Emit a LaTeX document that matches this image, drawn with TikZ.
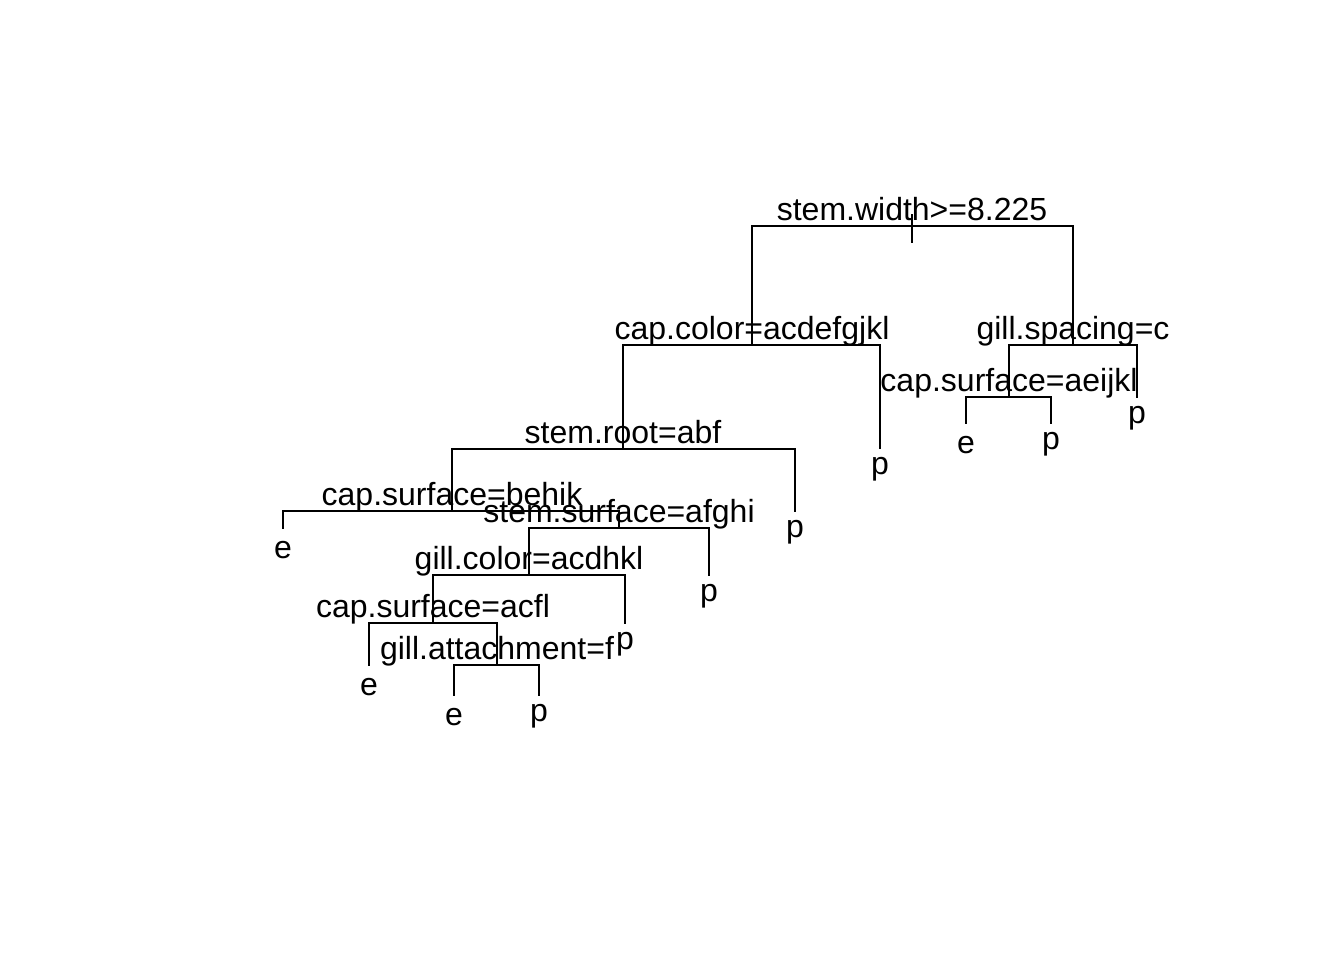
\documentclass[tikz,border=0pt]{standalone}
\usepackage{fontspec}
\setmainfont{Liberation Sans}
\usetikzlibrary{calc}
\tikzset{
  branch/.style={line width=1.2pt, line cap=rect},
  splitlab/.style={anchor=base, inner sep=0pt, font=\fontsize{24}{28}\selectfont},
  leaflab/.style={anchor=base, inner sep=0pt, font=\fontsize{24}{28}\selectfont},
}
\begin{document}
\begin{tikzpicture}[x=0.75pt,y=-0.75pt]
\useasboundingbox (0,0) rectangle (1344,960);
% node points
\coordinate (n1) at (912,226);
\coordinate (n1top) at (912,215);
\coordinate (n1bot) at (912,242);
\coordinate (n2) at (752,345);
\coordinate (n3) at (1073,345);
\coordinate (n4) at (623,449);
\coordinate (n5) at (880,448);
\coordinate (n6) at (1009,397);
\coordinate (n7) at (1137,397);
\coordinate (n8) at (452,511);
\coordinate (n9) at (795,511);
\coordinate (n10) at (966,423);
\coordinate (n11) at (1051,423);
\coordinate (n12) at (283,528);
\coordinate (n13) at (619,528);
\coordinate (n14) at (529,575);
\coordinate (n15) at (709,575);
\coordinate (n16) at (433,623);
\coordinate (n17) at (625,623);
\coordinate (n18) at (369,665);
\coordinate (n19) at (497,665);
\coordinate (n20) at (454,695);
\coordinate (n21) at (539,695);
% branches
\draw[branch] (n1top) -- (n1bot);
\draw[branch] (n2) |- (n1) -| (n3);
\draw[branch] (n4) |- (n2) -| (n5);
\draw[branch] (n6) |- (n3) -| (n7);
\draw[branch] (n8) |- (n4) -| (n9);
\draw[branch] (n10) |- (n6) -| (n11);
\draw[branch] (n12) |- (n8) -| (n13);
\draw[branch] (n14) |- (n13) -| (n15);
\draw[branch] (n16) |- (n14) -| (n17);
\draw[branch] (n18) |- (n16) -| (n19);
\draw[branch] (n20) |- (n19) -| (n21);
% split labels
\node[splitlab] (l1) at ($(n1)+(0,-6)$) {stem.width>=8.225};
\node[splitlab] (l2) at ($(n2)+(0,-6)$) {cap.color=acdefgjkl};
\node[splitlab] (l3) at ($(n3)+(0,-6)$) {gill.spacing=c};
\node[splitlab] (l4) at ($(n4)+(0,-6)$) {stem.root=abf};
\node[splitlab] (l6) at ($(n6)+(0,-6)$) {cap.surface=aeijkl};
\node[splitlab] (l8) at ($(n8)+(0,-6)$) {cap.surface=behik};
\node[splitlab] (l13) at ($(n13)+(0,-6)$) {stem.surface=afghi};
\node[splitlab] (l14) at ($(n14)+(0,-6)$) {gill.color=acdhkl};
\node[splitlab] (l16) at ($(n16)+(0,-6)$) {cap.surface=acfl};
\node[splitlab] (l19) at ($(n19)+(0,-6)$) {gill.attachment=f};
% leaf labels
\node[leaflab] (l5) at ($(n5)+(0,26.5)$) {p};
\node[leaflab] (l7) at ($(n7)+(0,26.5)$) {p};
\node[leaflab] (l9) at ($(n9)+(0,26.5)$) {p};
\node[leaflab] (l10) at ($(n10)+(0,30.5)$) {e};
\node[leaflab] (l11) at ($(n11)+(0,26.5)$) {p};
\node[leaflab] (l12) at ($(n12)+(0,30.5)$) {e};
\node[leaflab] (l15) at ($(n15)+(0,26.5)$) {p};
\node[leaflab] (l17) at ($(n17)+(0,26.5)$) {p};
\node[leaflab] (l18) at ($(n18)+(0,30.5)$) {e};
\node[leaflab] (l20) at ($(n20)+(0,30.5)$) {e};
\node[leaflab] (l21) at ($(n21)+(0,26.5)$) {p};
\end{tikzpicture}
\end{document}
